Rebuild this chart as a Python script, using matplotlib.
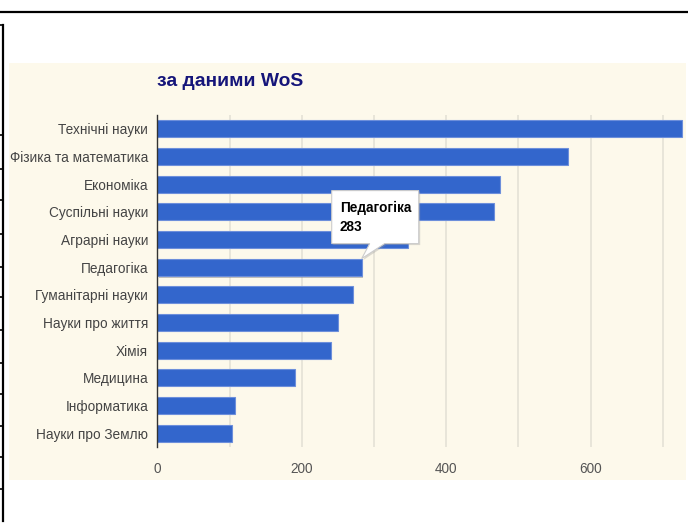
import matplotlib.pyplot as plt
import matplotlib.patches as mpatches
import matplotlib.transforms as mtransforms
import matplotlib.patheffects as pe
from matplotlib.lines import Line2D

plt.rcParams['font.family'] = ['Liberation Sans', 'DejaVu Sans']

# дані
categories = ['Технічні науки', 'Фізика та математика', 'Економіка', 'Суспільні науки',
              'Аграрні науки', 'Педагогіка', 'Гуманітарні науки', 'Науки про життя',
              'Хімія', 'Медицина', 'Інформатика', 'Науки про Землю']
values = [727, 568, 475, 466, 347, 283, 271, 250, 241, 190, 108, 103]
major_ticks = [0, 200, 400, 600]
minor_ticks = [100, 300, 500, 700]
x_max = 732
title = 'за даними WoS'
hover_idx = 5

W, H = 688, 525
fig = plt.figure(figsize=(W / 100, H / 100), dpi=100)


def fx(px):
    return px / W


def fy(py):
    return 1 - py / H


# кремовий фон діаграми
fig.patches.append(mpatches.Rectangle((fx(9), fy(480)), fx(686) - fx(9), fy(63) - fy(480),
                                      transform=fig.transFigure, facecolor='#fdf9eb',
                                      edgecolor='none', zorder=-5))

# рамка таблиці сторінки
fig.lines.append(Line2D([0, 1], [fy(12), fy(12)], transform=fig.transFigure, color='black', lw=1.6))
fig.lines.append(Line2D([fx(3), fx(3)], [fy(25), fy(521)], transform=fig.transFigure, color='black', lw=1.6))
for py in [25, 135, 169, 200, 234, 267, 297, 330, 363, 394, 426, 457, 489]:
    fig.lines.append(Line2D([0, fx(3)], [fy(py), fy(py)], transform=fig.transFigure, color='black', lw=1.2))

ax = fig.add_axes([fx(157.3), fy(447), fx(686) - fx(157.3), fy(115) - fy(447)])
ax.set_facecolor('none')
ax.set_zorder(1)

ypos = list(range(len(categories)))
bars = ax.barh(ypos, values, height=0.614, color='#3366cc', edgecolor='#6d8fdb', lw=0.8, zorder=3)
bars[hover_idx].set_path_effects([pe.SimplePatchShadow(offset=(1, -1.5), shadow_rgbFace='#888888', alpha=0.5),
                                  pe.Normal()])

ax.set_xlim(0, x_max)
ax.set_ylim(len(categories) - 0.5, -0.5)
ax.set_yticks(ypos)
ax.set_yticklabels(categories, fontsize=9.8, color='#444444')
for lbl in ax.get_yticklabels():
    lbl.set_transform(lbl.get_transform() + mtransforms.Affine2D().translate(0, -1.5))
ax.set_xticks(major_ticks)
ax.set_xticklabels([str(t) for t in major_ticks], fontsize=9.8, color='#555555')
ax.set_xticks(minor_ticks, minor=True)
ax.tick_params(axis='y', length=0, pad=6.5)
ax.tick_params(axis='x', which='both', length=0, pad=11)
ax.grid(axis='x', which='both', color='#e2dfd4', lw=1.1, zorder=0)
for s in ['top', 'right', 'bottom']:
    ax.spines[s].set_visible(False)
ax.spines['left'].set_color('#333333')
ax.spines['left'].set_linewidth(1)
ax.spines['left'].set_zorder(4)

# заголовок
fig.text(fx(157), fy(81.5), title, fontsize=13.9, fontweight='bold', color='#15157a',
         ha='left', va='center')

# підказка над стовпцем "Педагогіка"
tip = mtransforms.ScaledTranslation(values[hover_idx], hover_idx - 0.31, ax.transData)
pix = mtransforms.Affine2D() + tip
shape = [(-30, 15), (8, 15), (0, 0), (23, 15), (57, 15), (57, 68), (-30, 68)]
shadow = mpatches.Polygon([(x + 1.5, y - 1.5) for x, y in shape], closed=True, transform=pix,
                          facecolor='#999999', edgecolor='none', alpha=0.35, zorder=10)
box = mpatches.Polygon(shape, closed=True, transform=pix, facecolor='white',
                       edgecolor='#cccccc', lw=0.8, zorder=11)
fig.patches.extend([shadow, box])
fig.text(-22, 51, categories[hover_idx], transform=pix, fontsize=9.8, fontweight='bold',
         color='black', ha='left', va='center', zorder=12)
fig.text(-22, 32, str(values[hover_idx]), transform=pix, fontsize=9.8, fontweight='bold',
         color='black', ha='left', va='center', zorder=12)

fig.savefig('out.png', dpi=100)
